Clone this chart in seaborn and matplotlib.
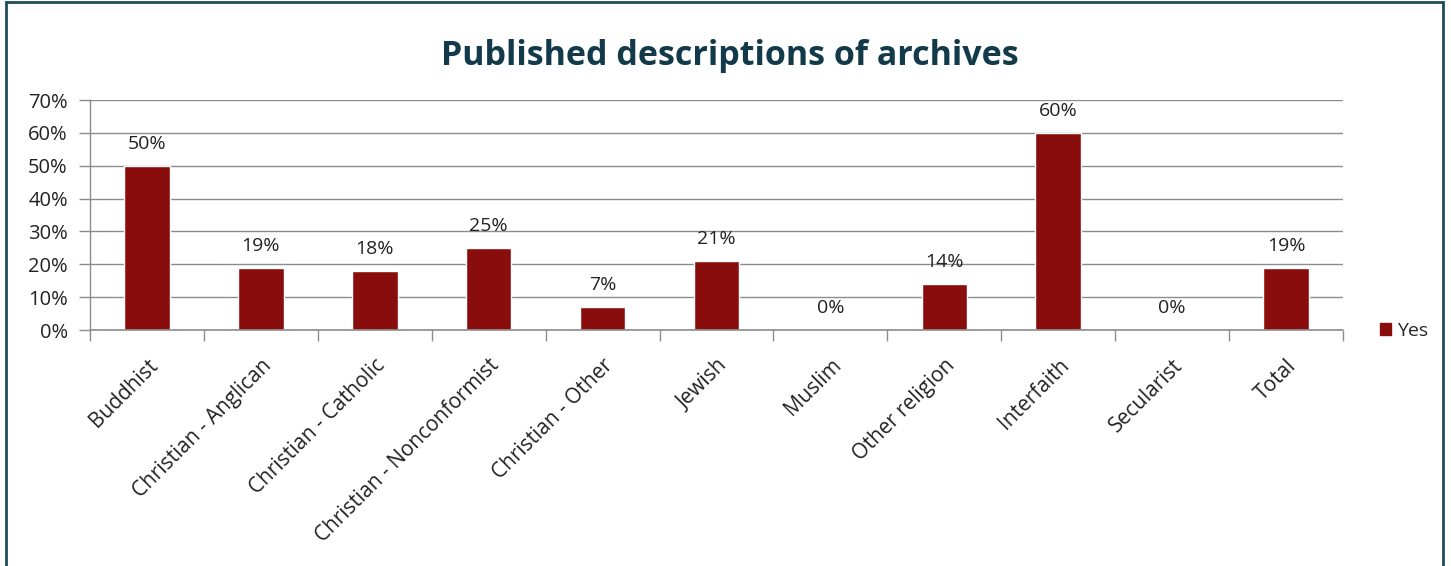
import matplotlib
matplotlib.use("Agg")
import matplotlib.pyplot as plt
import seaborn as sns
import pandas as pd
from matplotlib.patches import Rectangle
from matplotlib.ticker import FixedLocator, FuncFormatter

categories = ["Buddhist", "Christian - Anglican", "Christian - Catholic",
              "Christian - Nonconformist", "Christian - Other", "Jewish",
              "Muslim", "Other religion", "Interfaith", "Secularist", "Total"]
values = [50, 19, 18, 25, 7, 21, 0, 14, 60, 0, 19]
series_name = "Yes"
title = "Published descriptions of archives"
yticks = [0, 10, 20, 30, 40, 50, 60, 70]

sns.set_theme(style="white")
plt.rcParams['font.family'] = ['Open Sans', 'DejaVu Sans']

bar_color = "#8a0d0d"
df = pd.DataFrame({"cat": categories, "val": values})

fig = plt.figure(figsize=(14.51, 5.66), dpi=100)
ax = fig.add_axes([90/1451, 1-330/566, (1343-90)/1451, (330-100)/566])

sns.barplot(data=df, x="cat", y="val", color=bar_color, width=0.4, ax=ax,
            saturation=1, zorder=3)

ax.set_ylim(0, 70)
ax.set_xlim(-0.5, len(categories) - 0.5)
ax.yaxis.set_major_locator(FixedLocator(yticks))
ax.yaxis.set_major_formatter(FuncFormatter(lambda v, p: f"{int(v)}%"))
ax.grid(axis="y", color="#8c8c8c", linewidth=1.0, zorder=0)
ax.set_axisbelow(True)
for s in ["top", "right", "bottom"]:
    ax.spines[s].set_visible(False)
ax.spines["left"].set_color("#8c8c8c")
ax.spines["left"].set_linewidth(1.0)
ax.set_xlabel("")
ax.set_ylabel("")

ax.tick_params(axis="y", which="major", left=True, length=8, width=1,
               color="#8c8c8c", labelsize=14.5, pad=8, labelcolor="#222222")
ax.set_xticks(range(len(categories)))
ax.set_xticklabels(categories, rotation=45, ha="right", rotation_mode="anchor",
                   fontsize=15, color="#222222")
ax.tick_params(axis="x", which="major", bottom=False, length=0, pad=18)
ax.set_xticks([i - 0.5 for i in range(len(categories) + 1)], minor=True)
ax.tick_params(axis="x", which="minor", bottom=True, length=8, width=1,
               color="#8c8c8c")
ax.axhline(0, color="#8c8c8c", linewidth=1.2, zorder=4, clip_on=False)

for i, v in enumerate(values):
    ax.text(i, v + 3.9, f"{v}%", ha="center", va="bottom", fontsize=14,
            color="#222222")

fig.text(730/1451, 1-56/566, title, ha="center", va="center",
         fontsize=24.5, fontweight="bold", color="#123a4a")

handle = Rectangle((0, 0), 1, 1, facecolor=bar_color, edgecolor=bar_color)
fig.legend([handle], [series_name], loc="center left",
           bbox_to_anchor=(1370/1451, 1-331/566), frameon=False,
           fontsize=14, handlelength=0.6, handleheight=0.6,
           handletextpad=0.3, borderpad=0)

fig.patches.append(Rectangle((6/1451, -0.05), (1443-6)/1451, 1-2/566 + 0.05,
                             transform=fig.transFigure, fill=False,
                             edgecolor="#1f4b5a", linewidth=2.0))

fig.savefig("out.png", dpi=100)
